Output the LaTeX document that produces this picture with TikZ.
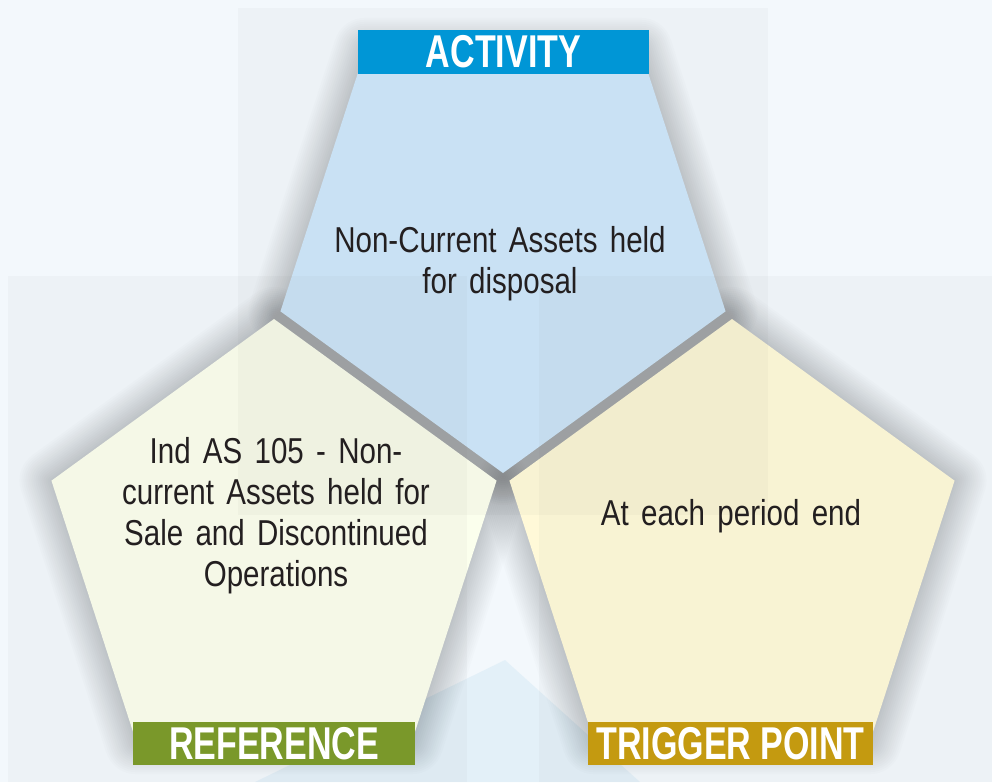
\documentclass[tikz,border=0pt]{standalone}
\usepackage{fontspec}
\setmainfont{Liberation Sans}[FakeStretch=0.82,WordSpace=1.5]
\newfontfamily\bannerfont{Liberation Sans}[FakeStretch=0.74]
\usepackage{xcolor}
\usepackage{tikz}
\usetikzlibrary{shapes.geometric}
\definecolor{pageblue}{RGB}{243,248,252}
\definecolor{paleblue}{RGB}{200,226,242}
\definecolor{activityfill}{RGB}{205,230,250}
\definecolor{referencefill}{RGB}{251,255,237}
\definecolor{triggerfill}{RGB}{255,249,216}
\definecolor{activityband}{RGB}{0,150,214}
\definecolor{referenceband}{RGB}{122,152,42}
\definecolor{triggerband}{RGB}{196,154,16}
\definecolor{inkgray}{RGB}{35,31,32}
\tikzset{
  pentagon/.style={shape=regular polygon,regular polygon sides=5,minimum size=468pt,inner sep=0pt,outer sep=0pt},
  glow/.style={pentagon,draw=black,draw opacity=0.01,line join=round},
  veil/.style={fill=black!55,fill opacity=0.045},
  banner/.style={shape=rectangle,text=white,font=\bannerfont\bfseries\fontsize{46}{46}\selectfont,inner sep=0pt,minimum height=44pt},
  bodytext/.style={shape=rectangle,text=inkgray,font=\fontsize{36}{41}\selectfont,align=center,inner sep=0pt}
}

\begin{document}
\begin{tikzpicture}

\useasboundingbox (0pt,0pt) rectangle (992pt,-782pt);
\fill [pageblue] (0pt,0pt) rectangle (992pt,-782pt);
\fill [paleblue,opacity=0.35] (255pt,-782pt) -- (505pt,-660pt) -- (640pt,-782pt) -- cycle;

% soft shadows
\foreach \w in {4,8,...,64}{
  \path (503pt,-239pt) node [glow,line width=\w pt,shape border rotate=180]{};
  \path (274pt,-553pt) node [glow,line width=\w pt]{};
  \path (732pt,-553pt) node [glow,line width=\w pt]{};
}

\path (503pt,-239pt) node [pentagon,fill=activityfill,shape border rotate=180] (activity){};
\path (274pt,-553pt) node [pentagon,fill=referencefill] (reference){};
\path (732pt,-553pt) node [pentagon,fill=triggerfill] (trigger){};

% grey panels
\fill [veil] (238pt,-8pt) rectangle (768pt,-515pt);
\fill [veil] (8pt,-276pt) rectangle (467pt,-782pt);
\fill [veil] (539pt,-276pt) rectangle (992pt,-782pt);

\path (503.5pt,-52pt) node [banner,fill=activityband,minimum width=291pt] (activitylabel){ACTIVITY};
\path (274pt,-743.5pt) node [banner,fill=referenceband,minimum width=282pt,minimum height=43pt] (referencelabel){REFERENCE};
\path (730.5pt,-743.5pt) node [banner,fill=triggerband,minimum width=285pt,minimum height=43pt] (triggerlabel){TRIGGER POINT};

\path (500pt,-264pt) node [bodytext] (activitytext){Non-Current Assets held\\for disposal};
\path (276pt,-516pt) node [bodytext] (referencetext){Ind AS 105 - Non-\\current Assets held for\\Sale and Discontinued\\Operations};
\path (731pt,-516pt) node [bodytext] (triggertext){At each period end};

\end{tikzpicture}
\end{document}
